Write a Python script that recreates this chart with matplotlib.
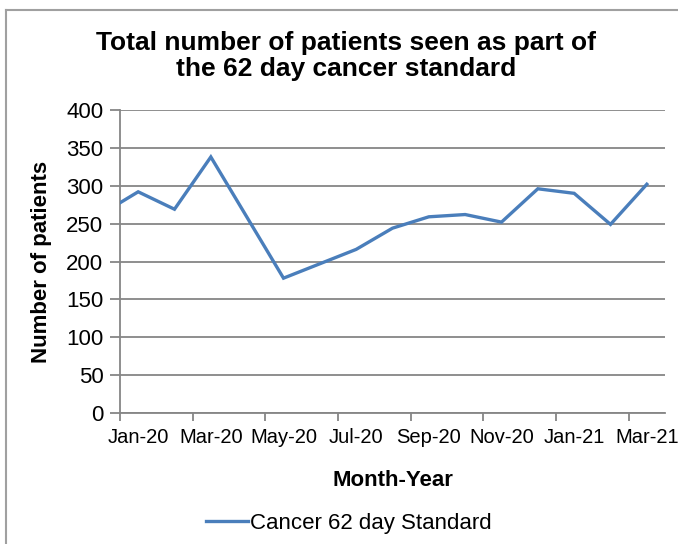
import numpy as np
import matplotlib
matplotlib.use("Agg")
import matplotlib.pyplot as plt
from matplotlib.lines import Line2D

plt.rcParams['font.family'] = ['Liberation Sans', 'DejaVu Sans']

# monthly counts, Dec-19 .. Mar-21 (Dec-19 falls outside the axis and is clipped)
months = ['Dec-19', 'Jan-20', 'Feb-20', 'Mar-20', 'Apr-20', 'May-20', 'Jun-20', 'Jul-20',
          'Aug-20', 'Sep-20', 'Oct-20', 'Nov-20', 'Dec-20', 'Jan-21', 'Feb-21', 'Mar-21']
patients = [263, 292, 269, 338, 258, 178, 197, 216, 244, 259, 262, 252, 296, 290, 249, 302]

tick_labels = ['Jan-20', 'Mar-20', 'May-20', 'Jul-20', 'Sep-20', 'Nov-20', 'Jan-21', 'Mar-21']

x = np.arange(len(months)) - 1  # Jan-20 -> 0

grey = '#868686'
blue = '#4A7EBB'

fig = plt.figure(figsize=(6.78, 5.44), dpi=100)
ax = fig.add_axes([120/678, 1 - 413/544, (665-120)/678, (413-110)/544])

ax.plot(x, patients, color=blue, lw=2.4, solid_joinstyle='miter', zorder=3)

ax.set_xlim(-0.5, 14.5)
ax.set_ylim(0, 400)
ax.set_yticks(np.arange(0, 401, 50))
ax.yaxis.grid(True, color=grey, lw=1.3)
ax.set_axisbelow(True)

ax.set_xticks(np.arange(-0.5, 14, 2))
ax.set_xticklabels([])
ax.set_xticks(np.arange(0, 15, 2), minor=True)
ax.set_xticklabels(tick_labels, minor=True)
ax.tick_params(axis='x', which='major', direction='out', length=6, width=1.3, color=grey)
ax.tick_params(axis='x', which='minor', length=0, pad=11, labelsize=14.5)
ax.tick_params(axis='y', direction='out', length=7, width=1.3, color=grey, labelsize=16, pad=5)

for s in ['top', 'right']:
    ax.spines[s].set_visible(False)
for s in ['left', 'bottom']:
    ax.spines[s].set_color(grey)
    ax.spines[s].set_linewidth(1.3)

ax.set_xlabel('Month-Year', fontsize=16, fontweight='bold', labelpad=16)
ax.set_ylabel('Number of patients', fontsize=16, fontweight='bold', labelpad=10)

fig.text(0.511, 1 - 56/544, 'Total number of patients seen as part of\nthe 62 day cancer standard',
         ha='center', va='center', fontsize=19, fontweight='bold', linespacing=1.15)

fig.legend(handles=[Line2D([], [], color=blue, lw=2.4)], labels=['Cancer 62 day Standard'],
           loc='center', bbox_to_anchor=(349/678, 1 - 523/544), frameon=False, fontsize=16,
           handlelength=1.9, handletextpad=0.1)

# outer chart border (left and top edges visible)
fig.add_artist(Line2D([6/678, 6/678], [0, 1 - 10/544], color='#A0A0A0', lw=1.5))
fig.add_artist(Line2D([6/678, 1], [1 - 10/544, 1 - 10/544], color='#A0A0A0', lw=1.5))

fig.savefig('out.png', dpi=100)
